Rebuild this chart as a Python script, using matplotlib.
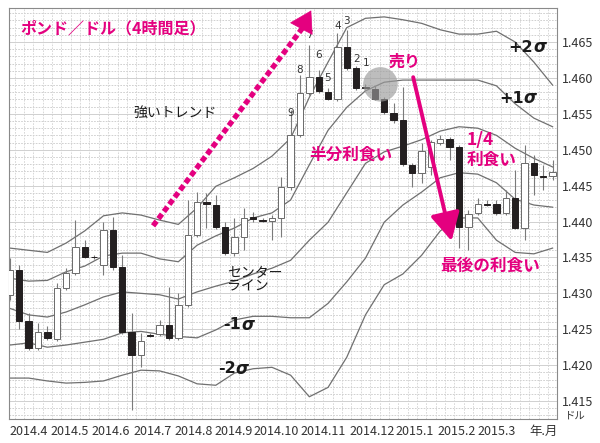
import numpy as np
import matplotlib.pyplot as plt
from matplotlib.patches import Ellipse

# weekly candles, GBP/USD
opens = [1.4298, 1.4332, 1.4261, 1.4224, 1.4246, 1.4236, 1.4307, 1.4328, 1.4365, 1.4351,
         1.4339, 1.4388, 1.4337, 1.4246, 1.4214, 1.4242, 1.4243, 1.4256, 1.4238, 1.4284,
         1.4381, 1.4427, 1.4423, 1.4392, 1.4356, 1.4378, 1.4406, 1.4402, 1.4401, 1.4405,
         1.4448, 1.4520, 1.4579, 1.4601, 1.4580, 1.4571, 1.4643, 1.4614, 1.4587, 1.4584,
         1.4571, 1.4551, 1.4541, 1.4479, 1.4468, 1.4476, 1.4509, 1.4515, 1.4504, 1.4392,
         1.4412, 1.4424, 1.4424, 1.4412, 1.4433, 1.4391, 1.4481, 1.4463, 1.4463]
highs = [1.4349, 1.4339, 1.4273, 1.4259, 1.4254, 1.4314, 1.4335, 1.4402, 1.4374, 1.4353,
         1.4399, 1.4406, 1.4353, 1.4273, 1.4245, 1.4245, 1.4263, 1.4309, 1.4300, 1.4430,
         1.4441, 1.4440, 1.4437, 1.4399, 1.4405, 1.4419, 1.4413, 1.4405, 1.4409, 1.4462,
         1.4555, 1.4604, 1.4646, 1.4611, 1.4586, 1.4663, 1.4667, 1.4617, 1.4592, 1.4589,
         1.4573, 1.4565, 1.4587, 1.4481, 1.4509, 1.4514, 1.4520, 1.4518, 1.4507, 1.4416,
         1.4433, 1.4430, 1.4430, 1.4444, 1.4472, 1.4507, 1.4493, 1.4479, 1.4486]
lows = [1.4291, 1.4250, 1.4221, 1.4221, 1.4235, 1.4234, 1.4305, 1.4325, 1.4349, 1.4348,
        1.4325, 1.4332, 1.4243, 1.4138, 1.4197, 1.4239, 1.4241, 1.4235, 1.4235, 1.4281,
        1.4378, 1.4391, 1.4390, 1.4353, 1.4352, 1.4360, 1.4399, 1.4399, 1.4374, 1.4378,
        1.4444, 1.4518, 1.4576, 1.4579, 1.4569, 1.4568, 1.4611, 1.4583, 1.4584, 1.4569,
        1.4550, 1.4537, 1.4477, 1.4448, 1.4454, 1.4465, 1.4507, 1.4486, 1.4363, 1.4360,
        1.4409, 1.4422, 1.4409, 1.4409, 1.4390, 1.4374, 1.4437, 1.4444, 1.4458]
closes = [1.4332, 1.4261, 1.4224, 1.4246, 1.4238, 1.4307, 1.4328, 1.4365, 1.4351, 1.4350,
          1.4388, 1.4337, 1.4246, 1.4214, 1.4234, 1.4241, 1.4256, 1.4238, 1.4284, 1.4381,
          1.4427, 1.4424, 1.4392, 1.4356, 1.4378, 1.4405, 1.4403, 1.4401, 1.4405, 1.4448,
          1.4520, 1.4579, 1.4601, 1.4582, 1.4571, 1.4643, 1.4614, 1.4586, 1.4586, 1.4571,
          1.4553, 1.4541, 1.4480, 1.4468, 1.4498, 1.4511, 1.4515, 1.4504, 1.4392, 1.4410,
          1.4424, 1.4423, 1.4412, 1.4433, 1.4391, 1.4481, 1.4465, 1.4462, 1.4469]

# bollinger bands, sampled every second candle
band_idx = list(range(0, 59, 2))
band_p2 = [1.4363, 1.4360, 1.4357, 1.4370, 1.4387, 1.4408, 1.4412, 1.4409, 1.4402, 1.4396,
           1.4419, 1.4449, 1.4461, 1.4474, 1.4491, 1.4516, 1.4573, 1.4622, 1.4670, 1.4683,
           1.4685, 1.4681, 1.4676, 1.4667, 1.4661, 1.4661, 1.4665, 1.4650, 1.4622, 1.4590]
band_p1 = [1.4321, 1.4317, 1.4318, 1.4330, 1.4338, 1.4352, 1.4356, 1.4356, 1.4348, 1.4344,
           1.4367, 1.4380, 1.4391, 1.4405, 1.4412, 1.4430, 1.4479, 1.4527, 1.4559, 1.4582,
           1.4594, 1.4597, 1.4597, 1.4597, 1.4597, 1.4597, 1.4589, 1.4564, 1.4544, 1.4532]
band_mid = [1.4279, 1.4270, 1.4267, 1.4274, 1.4284, 1.4295, 1.4302, 1.4300, 1.4298, 1.4292,
            1.4302, 1.4310, 1.4317, 1.4327, 1.4335, 1.4346, 1.4374, 1.4399, 1.4440, 1.4481,
            1.4497, 1.4505, 1.4514, 1.4526, 1.4532, 1.4530, 1.4520, 1.4502, 1.4488, 1.4476]
band_m1 = [1.4228, 1.4231, 1.4225, 1.4228, 1.4232, 1.4236, 1.4245, 1.4247, 1.4243, 1.4240,
           1.4238, 1.4249, 1.4263, 1.4268, 1.4268, 1.4266, 1.4266, 1.4286, 1.4316, 1.4349,
           1.4399, 1.4423, 1.4441, 1.4461, 1.4468, 1.4466, 1.4454, 1.4431, 1.4423, 1.4420]
band_m2 = [1.4182, 1.4182, 1.4178, 1.4175, 1.4176, 1.4178, 1.4186, 1.4193, 1.4192, 1.4185,
           1.4174, 1.4172, 1.4189, 1.4195, 1.4197, 1.4186, 1.4156, 1.4169, 1.4211, 1.4270,
           1.4312, 1.4327, 1.4353, 1.4387, 1.4405, 1.4405, 1.4374, 1.4357, 1.4355, 1.4363]

month_labels = ["2014.4", "2014.5", "2014.6", "2014.7", "2014.8", "2014.9", "2014.10",
                "2014.11", "2014.12", "2015.1", "2015.2", "2015.3", "年.月"]
month_pos = [2.0, 6.4, 10.8, 15.2, 19.6, 23.9, 28.5, 33.5, 38.7, 43.3, 47.7, 52.0, 57.05]
price_ticks = [1.415, 1.420, 1.425, 1.430, 1.435, 1.440, 1.445, 1.450, 1.455, 1.460, 1.465]

wave_labels = ["9", "8", "7", "6", "5", "4", "3", "2", "1"]
wave_pos = [(30.0, 1.4551), (31.0, 1.4611), (32.05, 1.4660), (33.0, 1.4632), (33.95, 1.4600),
            (35.0, 1.4672), (36.0, 1.4679), (37.05, 1.4626), (38.1, 1.4621)]

sigma_labels = ["+2", "+1", "-1", "-2"]
sigma_pos = [(55.9, 1.4643), (54.9, 1.4572), (24.7, 1.4256), (24.1, 1.4195)]

MAG = "#e4007f"
JP = ["Noto Sans CJK JP", "DejaVu Sans"]

fig = plt.figure(figsize=(6, 4.43), dpi=100)
ax = fig.add_axes([0.015, 0.054, 0.913, 0.928])
ax.set_xlim(-0.1, 58.45)
ax.set_ylim(1.41249, 1.46974)

# grid
for y in np.arange(1.413, 1.4695, 0.001):
    major = abs(round(y * 1000) % 5) == 0
    ax.axhline(y, color="#c9c9c9", lw=0.6, ls="-" if major else (0, (2, 1.5)), zorder=0)
for x in np.arange(0.5, 58.5, 1):
    ax.axvline(x, color="#d2d2d2", lw=0.6, ls=(0, (2, 1.5)), zorder=0)

# bands
for band in [band_p2, band_p1, band_mid, band_m1, band_m2]:
    ax.plot(band_idx, band, color="#707070", lw=0.9, zorder=2)

# candles
idx = np.arange(len(opens))
o = np.array(opens); c = np.array(closes)
ax.vlines(idx, lows, highs, color="#7a7a7a", lw=0.8, zorder=3)
up = c >= o
body_lo = np.minimum(o, c)
body_h = np.maximum(np.abs(c - o), 0.00008)
ax.bar(idx[up], body_h[up], bottom=body_lo[up], width=0.68, facecolor="white",
       edgecolor="#6a6a6a", lw=0.7, zorder=4)
ax.bar(idx[~up], body_h[~up], bottom=body_lo[~up], width=0.68, facecolor="#231f20",
       edgecolor="#231f20", lw=0.7, zorder=4)

# wave counting numbers
for lab, (xx, yy) in zip(wave_labels, wave_pos):
    ax.text(xx, yy, lab, fontsize=7.5, color="#333333", ha="center", va="center", zorder=6)

# sell point circle
ax.add_patch(Ellipse((39.6, 1.4591), 3.7, 0.0048, facecolor="#9a9a9a", alpha=0.65,
                     edgecolor="none", zorder=5))

# dotted trend arrow
ax.plot([15.3, 31.3], [1.4394, 1.4670], color=MAG, lw=3.8, ls=(0, (1.1, 0.6)),
        solid_capstyle="butt", zorder=7)
ax.annotate("", xy=(32.2, 1.4694), xytext=(31.0, 1.4665),
            arrowprops=dict(arrowstyle="-|>,head_length=0.9,head_width=0.55", color=MAG,
                            lw=0.5, mutation_scale=16, shrinkA=0, shrinkB=0), zorder=7)

# sell arrow
ax.annotate("", xy=(47.2, 1.4373), xytext=(43.1, 1.4601),
            arrowprops=dict(arrowstyle="-|>,head_length=0.85,head_width=0.45", color=MAG,
                            lw=2.8, mutation_scale=20, shrinkA=0, shrinkB=0), zorder=7)

# texts
ax.text(0.02, 0.951, "ポンド／ドル（4時間足）", transform=ax.transAxes, family=JP,
        fontsize=11.5, fontweight="bold", color=MAG, va="center", ha="left", zorder=8)
ax.text(17.6, 1.4551, "強いトレンド", family=JP, fontsize=10, color="#1a1a1a",
        ha="center", va="center", zorder=8)
ax.text(42.2, 1.4622, "売り", family=JP, fontsize=11.5, fontweight="bold", color=MAG,
        ha="center", va="center", zorder=8)
ax.text(36.4, 1.4493, "半分利食い", family=JP, fontsize=12, fontweight="bold", color=MAG,
        ha="center", va="center", zorder=8)
ax.text(48.8, 1.4514, "1/4", family=JP, fontsize=12.5, fontweight="bold", color=MAG,
        ha="left", va="center", zorder=8)
ax.text(48.8, 1.4486, "利食い", family=JP, fontsize=12, fontweight="bold", color=MAG,
        ha="left", va="center", zorder=8)
ax.text(51.3, 1.4339, "最後の利食い", family=JP, fontsize=12, fontweight="bold", color=MAG,
        ha="center", va="center", zorder=8)
ax.text(23.2, 1.4319, "センター\nライン", family=JP, fontsize=10, color="#1a1a1a",
        ha="left", va="center", linespacing=1.0, zorder=8)

# band names: upright sign/digit, italic sigma
for lab, (xx, yy) in zip(sigma_labels, sigma_pos):
    ax.text(xx, yy, lab, fontsize=11.5, fontweight="bold", color="#1a1a1a",
            ha="right", va="center", zorder=8)
    ax.text(xx, yy, "σ", fontsize=12, fontweight="bold", fontstyle="italic",
            color="#1a1a1a", ha="left", va="center", zorder=8)

# axes styling
for s in ax.spines.values():
    s.set_color("#8a8a8a")
    s.set_linewidth(0.8)
ax.yaxis.tick_right()
ax.set_yticks(price_ticks)
ax.set_yticklabels([f"{p:.3f}" for p in price_ticks], family=JP)
ax.set_xticks(month_pos)
ax.set_xticklabels(month_labels, family=JP)
ax.tick_params(axis="both", length=0, labelsize=9, labelcolor="#333333")
ax.tick_params(axis="y", pad=4)
ax.tick_params(axis="x", pad=4)
ax.text(1.014, 0.008, "ドル", transform=ax.transAxes, family=JP, fontsize=7.5,
        color="#333333", ha="left", va="center")

fig.savefig("out.png", dpi=100)
